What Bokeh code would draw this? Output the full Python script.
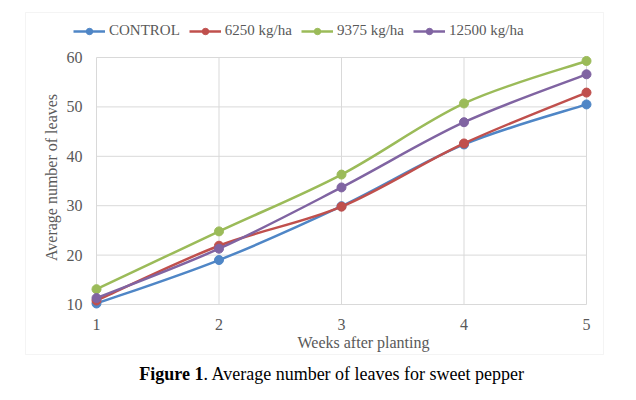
import math
from bokeh.plotting import figure
from bokeh.models import Legend, LegendItem, Label, BoxAnnotation, ColumnDataSource, Range1d
from bokeh.core.properties import value
from bokeh.embed import file_html
from bokeh.resources import INLINE

weeks = [1, 2, 3, 4, 5]
series_names = ["CONTROL", "6250 kg/ha", "9375 kg/ha", "12500 kg/ha"]
control = [10.2, 19.0, 29.9, 42.4, 50.5]
kg6250 = [10.8, 21.9, 29.8, 42.6, 52.9]
kg9375 = [13.1, 24.8, 36.3, 50.7, 59.3]
kg12500 = [11.3, 21.3, 33.7, 46.9, 56.6]
series_values = [control, kg6250, kg9375, kg12500]
colors = ["#4F86C6", "#C0504D", "#9BBB59", "#8064A2"]
y_ticks = [10, 20, 30, 40, 50, 60]
x_ticks = [1, 2, 3, 4, 5]
y_tick_labels = [str(v) for v in y_ticks]
x_tick_labels = [str(v) for v in x_ticks]

title_text = "Figure 1"
caption_text = ". Average number of leaves for sweet pepper"
x_title = "Weeks after planting"
y_title = "Average number of leaves"

FONT = "Liberation Serif"
GREY = "#595959"
GRID = "#D9D9D9"

W, H = 636, 400
# plot-area pixel layout (page pixels)
PX_LEFT, PX_RIGHT = 96.0, 586.0
PX_TOP, PX_BOTTOM = 57.0, 304.0
X0, X1 = x_ticks[0], x_ticks[-1]
Y0, Y1 = y_ticks[0], y_ticks[-1]
sx = (PX_RIGHT - PX_LEFT) / (X1 - X0)
sy = (PX_BOTTOM - PX_TOP) / (Y1 - Y0)


def px_x(px):
    return X0 + (px - PX_LEFT) / sx


def px_y(py):
    return Y0 + (PX_BOTTOM - py) / sy


def smooth_segments(xs, ys, t=1.0 / 6.0):
    n = len(xs)
    d = dict(x0=[], y0=[], x1=[], y1=[], cx0=[], cy0=[], cx1=[], cy1=[])
    for i in range(n - 1):
        i0 = max(i - 1, 0)
        i3 = min(i + 2, n - 1)
        d["x0"].append(xs[i]); d["y0"].append(ys[i])
        d["x1"].append(xs[i + 1]); d["y1"].append(ys[i + 1])
        d["cx0"].append(xs[i] + (xs[i + 1] - xs[i0]) * t)
        d["cy0"].append(ys[i] + (ys[i + 1] - ys[i0]) * t)
        d["cx1"].append(xs[i + 1] - (xs[i3] - xs[i]) * t)
        d["cy1"].append(ys[i + 1] - (ys[i3] - ys[i]) * t)
    return d


p = figure(width=W, height=H, output_backend="svg", toolbar_location=None,
           x_range=Range1d(px_x(0), px_x(W)), y_range=Range1d(px_y(H), px_y(0)),
           min_border=0)
p.outline_line_color = None
p.axis.visible = False
p.grid.visible = False
p.background_fill_color = "white"
p.border_fill_color = "white"

# chart-area border
p.add_layout(BoxAnnotation(left=px_x(25), right=px_x(603), top=px_y(12), bottom=px_y(354),
                           fill_alpha=0, line_color=GRID, line_width=1))

# gridlines from the tick arrays
p.segment(x0=x_ticks, x1=x_ticks, y0=[Y0] * len(x_ticks), y1=[Y1] * len(x_ticks),
          line_color=GRID, line_width=1)
p.segment(x0=[X0] * len(y_ticks), x1=[X1] * len(y_ticks), y0=y_ticks, y1=y_ticks,
          line_color=GRID, line_width=1)

# tick labels
p.text(x=x_ticks, y=[Y0] * len(x_ticks), text=x_tick_labels, y_offset=20,
       text_align="center", text_baseline="middle", text_font=value(FONT),
       text_font_size="16px", text_color=GREY)
p.text(x=[X0] * len(y_ticks), y=y_ticks, text=y_tick_labels, x_offset=-14,
       text_align="right", text_baseline="middle", text_font=value(FONT),
       text_font_size="16px", text_color=GREY)

items = []
for name, vals, col in zip(series_names, series_values, colors):
    src = ColumnDataSource(smooth_segments(weeks, vals))
    br = p.bezier(x0="x0", y0="y0", x1="x1", y1="y1", cx0="cx0", cy0="cy0",
                  cx1="cx1", cy1="cy1", source=src, line_color=col, line_width=2.5)
    sr = p.scatter(weeks, vals, marker="circle", size=9, fill_color=col, line_color=col)
    items.append(LegendItem(label=name, renderers=[br, sr]))

legend = Legend(items=items, orientation="horizontal", location=(73, H - 39),
                label_text_font=FONT, label_text_font_size="15px", label_text_color=GREY,
                glyph_width=32, glyph_height=16, label_height=16, label_standoff=4,
                spacing=9, padding=0, margin=0, border_line_color=None,
                background_fill_alpha=0)
p.add_layout(legend, "center")

p.add_layout(Label(x=px_x(363), y=px_y(342), text=x_title,
                   text_align="center", text_baseline="middle", text_font=FONT,
                   text_font_size="16px", text_color=GREY))
p.add_layout(Label(x=px_x(51), y=px_y(177), text=y_title,
                   angle=math.pi / 2, text_align="center", text_baseline="middle",
                   text_font=FONT, text_font_size="16px", text_color=GREY))

p.add_layout(Label(x=px_x(203), y=px_y(373), text=title_text,
                   text_align="right", text_baseline="middle", text_font=FONT,
                   text_font_style="bold", text_font_size="18px", text_color="black"))
p.add_layout(Label(x=px_x(203), y=px_y(373), text=caption_text,
                   text_align="left", text_baseline="middle", text_font=FONT,
                   text_font_size="18px", text_color="black"))

open("out.html", "w").write(file_html(p, INLINE))
